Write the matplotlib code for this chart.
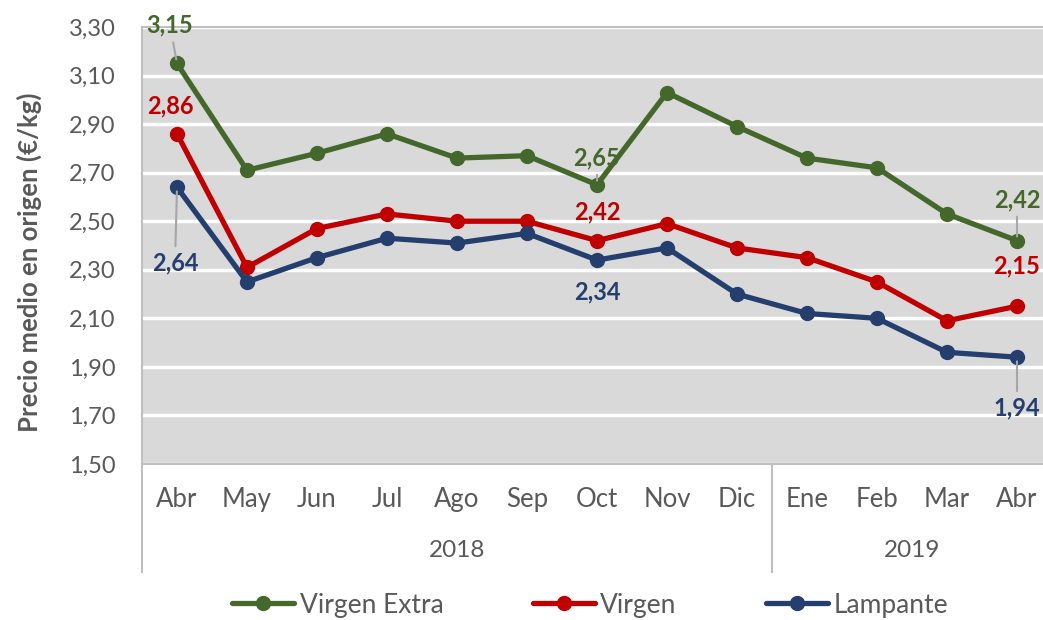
import matplotlib
matplotlib.use("Agg")
import matplotlib.pyplot as plt
import matplotlib.transforms as mtransforms

plt.rcParams['font.family'] = ['Lato', 'DejaVu Sans']

# datos
meses = ['Abr', 'May', 'Jun', 'Jul', 'Ago', 'Sep', 'Oct', 'Nov', 'Dic',
         'Ene', 'Feb', 'Mar', 'Abr']
anios = ['2018', '2019']
n_meses_anio = [9, 4]

virgen_extra = [3.15, 2.71, 2.78, 2.86, 2.76, 2.77, 2.65, 3.03, 2.89, 2.76, 2.72, 2.53, 2.42]
virgen = [2.86, 2.31, 2.47, 2.53, 2.50, 2.50, 2.42, 2.49, 2.39, 2.35, 2.25, 2.09, 2.15]
lampante = [2.64, 2.25, 2.35, 2.43, 2.41, 2.45, 2.34, 2.39, 2.20, 2.12, 2.10, 1.96, 1.94]

series = [('Virgen Extra', virgen_extra, '#44682C'),
          ('Virgen', virgen, '#C00000'),
          ('Lampante', lampante, '#243F6E')]

# etiquetas: (indice, dx px, dy px, con linea guia)
etiquetas = {
    'Virgen Extra': [(0, -7, 38, True), (6, 0, 27, True), (12, 0, 41, True)],
    'Virgen': [(0, -7, 28, False), (6, 0, 29, False), (12, 0, 40, False)],
    'Lampante': [(0, -2, -76, True), (6, 0, -32, False), (12, 0, -51, True)],
}

gris = '#595959'
borde = '#BFBFBF'

fig = plt.figure(figsize=(10.43, 6.2), dpi=100)
ax = fig.add_axes([142 / 1043, 156 / 620, 901 / 1043, 437 / 620])
ax.set_facecolor('#D9D9D9')

x = list(range(len(meses)))
for nombre, vals, color in series:
    ax.plot(x, vals, color=color, lw=3.8, marker='o', ms=10, label=nombre,
            solid_capstyle='round', zorder=3)
    for i, dx, dy, guia in etiquetas[nombre]:
        txt = f"{vals[i]:.2f}".replace('.', ',')
        ap = None
        if guia:
            ap = dict(arrowstyle='-', color='#A6A6A6', lw=1.5, shrinkA=2, shrinkB=3)
        ax.annotate(txt, (i, vals[i]), xytext=(dx, dy), textcoords='offset pixels',
                    ha='center', va='center', color=color, fontsize=17,
                    fontweight='bold', arrowprops=ap, zorder=4,
                    annotation_clip=False)

ax.set_xlim(-0.5, -0.5 + 901 / 70)
ax.set_ylim(1.5, 3.3)
yt = [1.5 + 0.2 * k for k in range(10)]
ax.set_yticks(yt)
ax.set_yticklabels([f"{v:.2f}".replace('.', ',') for v in yt])
ax.yaxis.grid(True, color='white', lw=2.5)
ax.set_axisbelow(True)
ax.tick_params(axis='y', length=0, pad=19, labelsize=17, labelcolor=gris)
ax.set_xticks([])
for s in ['top', 'left', 'bottom']:
    ax.spines[s].set_color(borde)
    ax.spines[s].set_linewidth(1.5)
ax.spines['right'].set_visible(False)

ax.set_ylabel('Precio medio en origen (€/kg)', fontsize=18.5, fontweight='bold',
              color=gris)
ax.yaxis.set_label_coords(-0.111, 0.462)

# eje de categorias en dos niveles
tr = mtransforms.blended_transform_factory(ax.transData, ax.transAxes)
for i, m in enumerate(meses):
    ax.text(i, -0.082, m, transform=tr, ha='center', va='center',
            fontsize=18.5, color=gris, clip_on=False)
inicio = 0
ax.plot([-0.5, -0.5], [0, -0.247], transform=tr, color=borde, lw=1.5, clip_on=False)
for a, n in zip(anios, n_meses_anio):
    fin = inicio + n - 1
    ax.text((inicio + fin) / 2, -0.197, a, transform=tr, ha='center', va='center',
            fontsize=17.5, color=gris, clip_on=False)
    if inicio == 0:
        ax.plot([fin + 0.5, fin + 0.5], [0, -0.247], transform=tr, color=borde,
                lw=1.5, clip_on=False)
    inicio = fin + 1

ax.legend(loc='center', bbox_to_anchor=(0.566, 0.024), bbox_transform=fig.transFigure,
          ncol=3, frameon=False, fontsize=19, handlelength=2.35, columnspacing=3.4,
          handletextpad=0.2, labelcolor=gris)

fig.savefig('out.png', dpi=100)
